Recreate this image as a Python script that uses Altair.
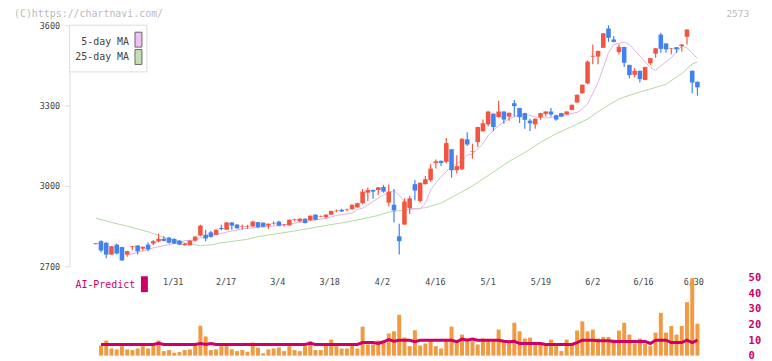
import altair as alt
import pandas as pd

FONT = "DejaVu Sans Mono"
RED = "#F25542"
BLUE = "#4182F0"
ORANGE = "#F29A42"
MAGENTA = "#CC0066"
PINK_LINE = "#E6B0E6"
GREEN_LINE = "#B2D9A2"

# ---------------- data ----------------
opens = [2783, 2794, 2788, 2744, 2781, 2772, 2744, 2772, 2778, 2766,
         2781, 2785, 2793, 2803, 2807, 2802, 2796, 2779, 2779, 2796,
         2815, 2818, 2827, 2818, 2843, 2837, 2864, 2856, 2848, 2848,
         2849, 2865, 2863, 2852, 2860, 2867, 2854, 2853, 2873, 2868,
         2878, 2872, 2893, 2886, 2883, 2893, 2906, 2911, 2910, 2913,
         2920, 2936, 2975, 2985, 2985, 2996, 2938, 2930, 2812, 2856,
         2917, 3007, 2944, 3007, 3022, 3086, 3094, 3090, 3137, 3059,
         3062, 3174, 3128, 3164, 3204, 3230, 3270, 3257, 3278, 3259,
         3309, 3291, 3272, 3244, 3230, 3257, 3269, 3278, 3264, 3272,
         3267, 3284, 3312, 3346, 3383, 3483, 3483, 3516, 3588, 3547,
         3500, 3519, 3452, 3415, 3430, 3396, 3458, 3494, 3565, 3532,
         3512, 3518, 3522, 3557, 3430, 3389]
closes = [2786, 2759, 2744, 2775, 2748, 2722, 2757, 2775, 2756, 2773,
          2763, 2794, 2803, 2795, 2788, 2785, 2781, 2785, 2796, 2811,
          2852, 2804, 2810, 2837, 2839, 2864, 2852, 2842, 2850, 2850,
          2867, 2846, 2848, 2859, 2862, 2852, 2856, 2874, 2875, 2878,
          2862, 2889, 2874, 2888, 2893, 2907, 2908, 2905, 2912, 2930,
          2936, 2979, 2985, 2979, 2995, 2979, 2979, 2909, 2794, 2942,
          2954, 2983, 3012, 3025, 3065, 3092, 3086, 3160, 3059, 3074,
          3176, 3155, 3130, 3220, 3234, 3278, 3220, 3278, 3248, 3273,
          3298, 3257, 3247, 3234, 3251, 3272, 3278, 3267, 3248, 3259,
          3278, 3303, 3341, 3378, 3464, 3486, 3504, 3570, 3553, 3538,
          3519, 3460, 3414, 3430, 3399, 3444, 3477, 3514, 3512, 3510,
          3514, 3510, 3528, 3584, 3386, 3368]
highs = [2787, 2797, 2790, 2776, 2785, 2773, 2758, 2776, 2780, 2774,
         2790, 2798, 2822, 2812, 2810, 2805, 2798, 2786, 2797, 2812,
         2855, 2837, 2832, 2838, 2855, 2865, 2865, 2857, 2856, 2855,
         2870, 2866, 2864, 2860, 2868, 2870, 2858, 2875, 2878, 2879,
         2879, 2890, 2894, 2890, 2894, 2908, 2912, 2915, 2916, 2931,
         2937, 2989, 2994, 2987, 2996, 3004, 3006, 2989, 2859, 2954,
         2963, 3022, 3013, 3037, 3081, 3099, 3095, 3179, 3138, 3115,
         3178, 3201, 3158, 3221, 3248, 3279, 3271, 3318, 3279, 3274,
         3321, 3292, 3273, 3251, 3252, 3273, 3279, 3291, 3266, 3273,
         3279, 3304, 3342, 3379, 3469, 3528, 3506, 3571, 3600, 3560,
         3528, 3520, 3453, 3440, 3431, 3445, 3478, 3515, 3572, 3533,
         3515, 3519, 3529, 3585, 3431, 3390]
lows = [2782, 2753, 2730, 2743, 2744, 2721, 2736, 2760, 2744, 2758,
        2757, 2780, 2790, 2793, 2785, 2783, 2779, 2777, 2778, 2792,
        2812, 2794, 2807, 2816, 2835, 2836, 2837, 2840, 2837, 2840,
        2848, 2842, 2846, 2840, 2855, 2850, 2849, 2852, 2868, 2866,
        2860, 2870, 2872, 2884, 2880, 2892, 2902, 2903, 2907, 2912,
        2919, 2932, 2944, 2952, 2967, 2975, 2923, 2864, 2744, 2855,
        2895, 2946, 2938, 3006, 3016, 3065, 3075, 3084, 3031, 3047,
        3060, 3149, 3102, 3146, 3203, 3223, 3205, 3256, 3232, 3244,
        3259, 3235, 3214, 3205, 3214, 3247, 3259, 3259, 3244, 3258,
        3266, 3283, 3311, 3345, 3380, 3454, 3454, 3515, 3538, 3536,
        3491, 3444, 3402, 3405, 3386, 3395, 3452, 3479, 3497, 3497,
        3492, 3497, 3502, 3528, 3346, 3337]

volume = [None, 6.5, 9.7, 4.6, 4.0, 6.1, 4.0, 3.6, 4.6, 6.1,
          4.6, 6.5, 9.7, 2.9, 3.6, 1.9, 2.3, 3.6, 4.0, 6.5,
          19.2, 12.3, 3.6, 4.0, 6.1, 6.1, 4.0, 2.9, 3.6, 2.5,
          8.4, 5.1, 1.5, 4.0, 4.6, 5.3, 2.9, 6.1, 3.6, 2.9,
          6.1, 9.3, 3.6, 3.6, 6.1, 10.3, 6.1, 4.6, 4.6, 6.5,
          4.6, 18.6, 7.2, 7.2, 9.7, 9.3, 14.2, 15.6, 26.2, 11.6,
          6.1, 16.3, 6.5, 7.8, 9.3, 6.1, 4.6, 9.3, 18.6, 8.9,
          13.5, 11.0, 9.3, 7.2, 11.0, 9.3, 9.3, 16.7, 9.9, 8.9,
          21.1, 15.6, 11.0, 11.6, 6.8, 6.8, 6.8, 10.3, 6.8, 2.9,
          10.3, 6.8, 16.1, 22.0, 15.6, 16.7, 11.0, 12.0, 12.0, 10.3,
          16.1, 21.1, 13.5, 7.8, 11.0, 7.8, 6.1, 14.8, 27.5, 14.8,
          19.0, 13.5, 19.0, 34.3, 49.7, 20.5]

ai_predict = [None, 7.2, 7.2, 7.2, 7.2, 7.2, 7.2, 7.2, 7.2, 7.2,
              7.2, 7.2, 8.0, 7.2, 7.2, 7.2, 7.2, 7.2, 7.2, 7.2,
              7.8, 7.2, 7.8, 7.2, 7.2, 7.2, 7.2, 7.2, 7.2, 7.2,
              7.2, 7.2, 7.2, 7.2, 7.2, 7.2, 7.2, 7.2, 7.2, 7.2,
              7.2, 8.0, 7.2, 7.2, 7.2, 7.2, 7.2, 7.2, 7.2, 7.2,
              7.2, 8.4, 8.4, 8.4, 7.8, 8.9, 10.3, 9.3, 9.9, 9.9,
              9.9, 8.9, 9.9, 9.9, 9.9, 9.9, 9.9, 9.9, 9.9, 8.9,
              10.6, 9.9, 10.6, 9.9, 9.9, 9.9, 9.9, 9.9, 9.3, 8.9,
              9.3, 7.8, 7.8, 7.8, 7.8, 7.8, 7.2, 7.2, 7.2, 7.2,
              7.2, 7.2, 8.4, 9.9, 9.9, 9.9, 9.6, 9.6, 9.6, 9.1,
              9.1, 9.1, 9.1, 9.1, 9.1, 9.1, 7.8, 9.9, 9.9, 9.9,
              8.4, 8.4, 8.4, 9.9, 8.4, 9.9]

ma5_idx = [6, 9, 11, 14, 16, 17, 19, 20, 22, 25, 28, 31, 35, 38, 41, 44, 46, 49,
           50, 51, 53, 55, 57, 58, 59, 60, 62, 63, 64, 66, 68, 70, 71, 72, 74, 75,
           77, 79, 81, 82, 84, 86, 88, 90, 92, 93, 94, 96, 98, 99, 101, 102, 104,
           106, 107, 108, 110, 112, 113, 115]
ma5_val = [2742, 2757, 2769, 2781, 2790, 2796, 2798, 2806, 2814, 2828, 2840, 2846,
           2852, 2861, 2870, 2879, 2890, 2899, 2912, 2917, 2942, 2967, 2983, 2965,
           2942, 2917, 2914, 2936, 2985, 3035, 3072, 3096, 3115, 3119, 3158, 3189,
           3226, 3251, 3265, 3269, 3257, 3254, 3259, 3265, 3275, 3288, 3306, 3386,
           3497, 3528, 3537, 3528, 3485, 3442, 3432, 3448, 3479, 3522, 3516, 3476]

ma25_idx = [0, 3, 6, 10, 13, 16, 18, 20, 22, 24, 26, 29, 31, 34, 38, 41, 44, 47,
            50, 54, 56, 59, 63, 66, 69, 72, 74, 79, 82, 85, 88, 91, 94, 97, 100,
            103, 106, 109, 112, 114, 115]
ma25_val = [2880, 2864, 2850, 2829, 2808, 2793, 2782, 2778, 2780, 2788, 2793,
            2801, 2811, 2820, 2832, 2842, 2853, 2862, 2873, 2890, 2903, 2910,
            2919, 2936, 2968, 3000, 3026, 3092, 3125, 3163, 3195, 3222, 3250,
            3290, 3325, 3345, 3362, 3380, 3420, 3455, 3464]

date_labels = ["1/31", "2/17", "3/4", "3/18", "4/2", "4/16", "5/1", "5/19",
               "6/2", "6/16", "6/30"]
date_label_idx = [14.8, 24.9, 34.8, 44.7, 54.8, 64.9, 75.0, 85.1, 95.0, 104.7, 114.3]

price_ticks = [2700, 3000, 3300, 3600]
volume_ticks = [0, 10, 20, 30, 40, 50]

# ---------------- tables ----------------
n = min(len(opens), len(highs), len(lows), len(closes))
candles = pd.DataFrame({
    "i": list(range(n)),
    "open": opens[:n], "high": highs[:n], "low": lows[:n], "close": closes[:n],
})
candles["dir"] = ["up" if c >= o else "down" for o, c in zip(candles["open"], candles["close"])]

vol_df = pd.DataFrame({"i": list(range(len(volume))), "vol": volume}).dropna()
ai_df = pd.DataFrame({"i": list(range(len(ai_predict))), "ai": ai_predict}).dropna()
ma5_df = pd.DataFrame({"i": ma5_idx[:len(ma5_val)], "v": ma5_val[:len(ma5_idx)]})
ma25_df = pd.DataFrame({"i": ma25_idx[:len(ma25_val)], "v": ma25_val[:len(ma25_idx)]})
lab_df = pd.DataFrame({"i": date_label_idx, "t": date_labels})
one = pd.DataFrame({"a": [0]})

# ---------------- scales / layout ----------------
W, H = 682, 333
X_DOMAIN = [-4.07, 123.36]
x_scale = alt.Scale(domain=X_DOMAIN, nice=False, zero=False)
price_scale = alt.Scale(domain=[2700, 3600], range=[243, 0], nice=False, zero=False)
vol_scale = alt.Scale(domain=[0, 50], range=[333, 254.5], nice=False, zero=True)
tick_vals = [X_DOMAIN[0] + k * (X_DOMAIN[1] - X_DOMAIN[0]) / 11 for k in range(12)]

color_scale = alt.Scale(domain=["up", "down"], range=[RED, BLUE])

x_axis = alt.Axis(values=tick_vals, labels=False, domain=True, domainColor="#dddddd",
                  ticks=True, tickColor="#dddddd", tickSize=6, grid=False, title=None,
                  offset=-89, orient="bottom")
price_axis = alt.Axis(values=price_ticks, orient="left", grid=False, title=None,
                      format="d",
                      domainColor="#dddddd", tickColor="#dddddd", tickSize=5,
                      labelFont=FONT, labelFontSize=8.5, labelColor="#444444",
                      labelPadding=5, labelBaseline="middle")
vol_axis = alt.Axis(values=volume_ticks, orient="right", grid=False, title=None,
                    format="d",
                    domain=False, ticks=False, labelFont=FONT, labelFontSize=10.5,
                    labelFontWeight="bold", labelColor=MAGENTA, labelPadding=2,
                    labelBaseline="middle")

ma25_line = alt.Chart(ma25_df).mark_line(color=GREEN_LINE, strokeWidth=1).encode(
    x=alt.X("i:Q", scale=x_scale, axis=x_axis),
    y=alt.Y("v:Q", scale=price_scale, axis=price_axis),
)
ma5_line = alt.Chart(ma5_df).mark_line(color=PINK_LINE, strokeWidth=1).encode(
    x=alt.X("i:Q", scale=x_scale, axis=None),
    y=alt.Y("v:Q", scale=price_scale, axis=None),
)
wicks = alt.Chart(candles).mark_rule(strokeWidth=1.2).encode(
    x=alt.X("i:Q", scale=x_scale, axis=None),
    y=alt.Y("low:Q", scale=price_scale, axis=None),
    y2="high:Q",
    color=alt.Color("dir:N", scale=color_scale, legend=None),
)
bodies = alt.Chart(candles).mark_bar(size=4.6).encode(
    x=alt.X("i:Q", scale=x_scale, axis=None),
    y=alt.Y("open:Q", scale=price_scale, axis=None),
    y2="close:Q",
    color=alt.Color("dir:N", scale=color_scale, legend=None),
)

date_text = alt.Chart(lab_df).mark_text(font=FONT, fontSize=8.5, color="#444444",
                                        baseline="middle", align="center").encode(
    x=alt.X("i:Q", scale=x_scale, axis=None),
    y=alt.value(258.5),
    text="t:N",
)

vol_bars = alt.Chart(vol_df).mark_bar(size=4, color=ORANGE).encode(
    x=alt.X("i:Q", scale=x_scale, axis=None),
    y=alt.Y("vol:Q", scale=vol_scale, axis=vol_axis),
)
ai_line = alt.Chart(ai_df).mark_line(color=MAGENTA, strokeWidth=3).encode(
    x=alt.X("i:Q", scale=x_scale, axis=None),
    y=alt.Y("ai:Q", scale=vol_scale, axis=None),
)

# legend box
leg_box = alt.Chart(one).mark_rect(fill="white", stroke="#dddddd", strokeWidth=1).encode(
    x=alt.value(0), x2=alt.value(78), y=alt.value(0), y2=alt.value(47))
leg_sw5 = alt.Chart(one).mark_rect(fill="#F0C0EE", stroke="#666666", strokeWidth=1).encode(
    x=alt.value(66), x2=alt.value(73), y=alt.value(7), y2=alt.value(22))
leg_sw25 = alt.Chart(one).mark_rect(fill="#C2E0B4", stroke="#666666", strokeWidth=1).encode(
    x=alt.value(66), x2=alt.value(73), y=alt.value(24.5), y2=alt.value(39.5))
leg_t5 = alt.Chart(one).mark_text(text="5-day MA", font=FONT, fontSize=10, color="#444444",
                                  align="right", baseline="middle").encode(
    x=alt.value(60), y=alt.value(16.5))
leg_t25 = alt.Chart(one).mark_text(text="25-day MA", font=FONT, fontSize=10, color="#444444",
                                   align="right", baseline="middle").encode(
    x=alt.value(60), y=alt.value(32.5))

ai_text = alt.Chart(one).mark_text(text="AI-Predict", font=FONT, fontSize=10, color=MAGENTA,
                                   align="left", baseline="middle").encode(
    x=alt.value(6), y=alt.value(262))
ai_sw = alt.Chart(one).mark_rect(fill=MAGENTA).encode(
    x=alt.value(72), x2=alt.value(79), y=alt.value(253), y2=alt.value(269))

title_t = alt.Chart(one).mark_text(text="(C)https://chartnavi.com/", font=FONT, fontSize=10,
                                   color="#bbbbbb", align="left", baseline="middle").encode(
    x=alt.value(-56), y=alt.value(-11.5))
code_t = alt.Chart(one).mark_text(text="2573", font=FONT, fontSize=9.5, color="#bbbbbb",
                                  align="right", baseline="middle").encode(
    x=alt.value(685), y=alt.value(-11.5))

chart = alt.layer(
    ma25_line, ma5_line, wicks, bodies, date_text, vol_bars, ai_line,
    leg_box, leg_sw5, leg_sw25, leg_t5, leg_t25, ai_text, ai_sw, title_t, code_t,
).resolve_scale(y="independent").properties(
    width=W, height=H,
    padding={"left": 62, "top": 16, "right": 18, "bottom": 4},
    autosize=alt.AutoSizeParams(type="none"),
    background="white",
).configure_view(stroke=None)

chart.save("out.html", embed_options={"renderer": "svg", "actions": False})
